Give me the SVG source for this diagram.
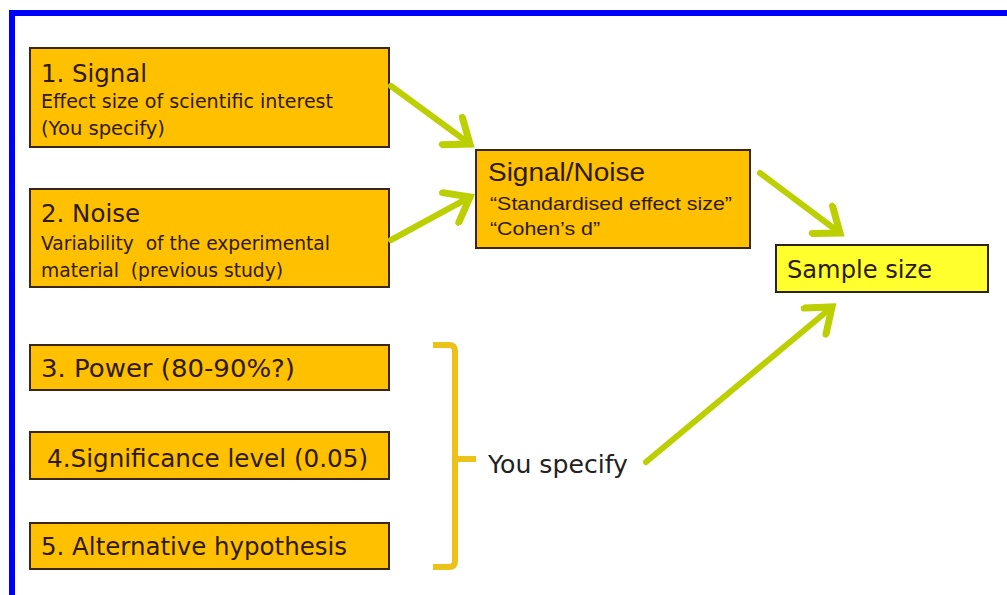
<svg xmlns="http://www.w3.org/2000/svg" width="1007" height="595" viewBox="0 0 1007 595">
  <style>
    .box { fill: #ffc000; stroke: #3a2614; stroke-width: 2; }
    .box-yellow { fill: #ffff2e; stroke: #2a2410; stroke-width: 2; }
    .t { font-family: "DejaVu Sans", "Liberation Sans", sans-serif; fill: #2e1a0c; }
    .ta { font-family: "Liberation Sans", Arial, sans-serif; fill: #2e1a0c; }
    .big { font-size: 25px; }
    .small { font-size: 19px; }
    .link { stroke: #bccf00; stroke-width: 6; fill: none; stroke-linecap: round; }
    .bracket { stroke: #ecc21a; stroke-width: 6; fill: none; stroke-linejoin: round; }
  </style>
  <defs>
    <marker id="chevron" markerUnits="userSpaceOnUse" markerWidth="40" markerHeight="40" viewBox="-30 -20 34 40" refX="0" refY="0" orient="auto">
      <path d="M-22,-17 L0,0 L-22,17" fill="none" stroke="#bccf00" stroke-width="7" stroke-linecap="round" stroke-linejoin="miter"/>
    </marker>
  </defs>

  <rect x="0" y="0" width="1007" height="595" fill="#ffffff"/>

  <!-- frame -->
  <path d="M12,595 V13 H1007" fill="none" stroke="#0000ff" stroke-width="6"/>

  <g id="node-signal">
    <rect class="box" x="30" y="48" width="359" height="99"/>
    <text class="t big" x="41" y="82" textLength="106" lengthAdjust="spacingAndGlyphs">1. Signal</text>
    <text class="t small" x="41" y="108" textLength="292" lengthAdjust="spacingAndGlyphs">Effect size of scientific interest</text>
    <text class="t small" x="41" y="135" textLength="124" lengthAdjust="spacingAndGlyphs">(You specify)</text>
  </g>

  <g id="node-noise">
    <rect class="box" x="30" y="189" width="359" height="98"/>
    <text class="t big" x="41" y="222" textLength="99" lengthAdjust="spacingAndGlyphs">2. Noise</text>
    <text class="t small" x="41" y="250" textLength="289" lengthAdjust="spacingAndGlyphs" xml:space="preserve">Variability  of the experimental</text>
    <text class="t small" x="41" y="277" textLength="242" lengthAdjust="spacingAndGlyphs" xml:space="preserve">material  (previous study)</text>
  </g>

  <g id="node-power">
    <rect class="box" x="30" y="345" width="359" height="45"/>
    <text class="t big" x="41" y="377" textLength="254" lengthAdjust="spacingAndGlyphs">3. Power (80-90%?)</text>
  </g>

  <g id="node-significance">
    <rect class="box" x="30" y="432" width="359" height="47"/>
    <text class="t big" x="47" y="467" textLength="321" lengthAdjust="spacingAndGlyphs">4.Significance level (0.05)</text>
  </g>

  <g id="node-alternative">
    <rect class="box" x="30" y="523" width="359" height="46"/>
    <text class="t big" x="41" y="555" textLength="306" lengthAdjust="spacingAndGlyphs">5. Alternative hypothesis</text>
  </g>

  <g id="node-ratio">
    <rect class="box" x="476" y="150" width="274" height="98"/>
    <text class="ta" font-size="26" x="488" y="181" textLength="157" lengthAdjust="spacingAndGlyphs">Signal/Noise</text>
    <text class="ta small" x="490" y="210" textLength="242" lengthAdjust="spacingAndGlyphs">“Standardised effect size”</text>
    <text class="ta small" x="490" y="235" textLength="110" lengthAdjust="spacingAndGlyphs">“Cohen’s d”</text>
  </g>

  <g id="node-sample">
    <rect class="box-yellow" x="776" y="245" width="212" height="47"/>
    <text class="t big" x="787" y="278" textLength="145" lengthAdjust="spacingAndGlyphs">Sample size</text>
  </g>

  <g id="node-specify">
    <path class="bracket" d="M433,345 H449 Q455,345 455,351 V561 Q455,567 449,567 H433 M455,459 H476"/>
    <text class="t big" x="488" y="473" style="fill:#222222" textLength="140" lengthAdjust="spacingAndGlyphs">You specify</text>
  </g>

  <g id="connectors">
    <line class="link" x1="391" y1="86" x2="470" y2="144" marker-end="url(#chevron)"/>
    <line class="link" x1="391" y1="240" x2="470" y2="197" marker-end="url(#chevron)"/>
    <line class="link" x1="760" y1="173" x2="840" y2="233" marker-end="url(#chevron)"/>
    <line class="link" x1="646" y1="462" x2="832" y2="307" marker-end="url(#chevron)"/>
  </g>
</svg>
